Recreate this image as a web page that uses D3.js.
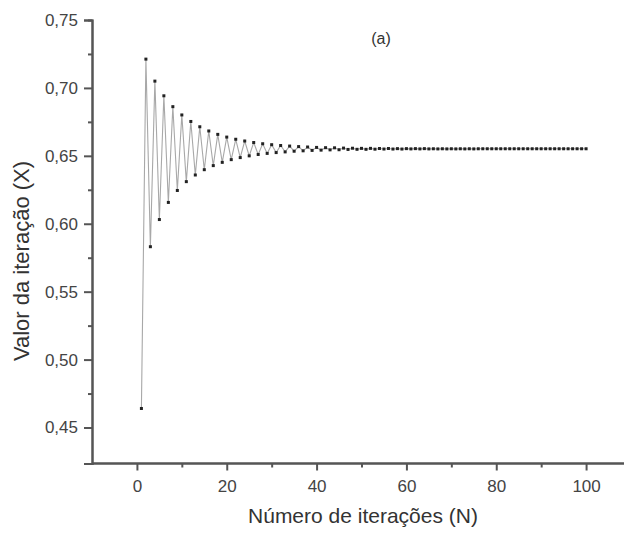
<!DOCTYPE html>
<html><head><meta charset="utf-8">
<script src="https://cdn.jsdelivr.net/npm/d3@7"></script>
<style>body{margin:0;background:#fff}svg{display:block}text{font-family:"Liberation Sans",Arial,sans-serif}</style>
</head><body><svg id="c" width="624" height="533"></svg>
<script>
const iterations = d3.range(1, 101);
const values = [
0.4640,0.7212,0.5831,0.7050,0.6031,0.6942,0.6157,0.6862,0.6245,0.6801,
0.6310,0.6753,0.6359,0.6714,0.6398,0.6683,0.6428,0.6658,0.6452,0.6638,
0.6472,0.6622,0.6487,0.6609,0.6500,0.6598,0.6510,0.6589,0.6518,0.6582,
0.6524,0.6576,0.6529,0.6572,0.6534,0.6568,0.6537,0.6565,0.6540,0.6562,
0.6542,0.6560,0.6544,0.6559,0.6545,0.6557,0.6547,0.6556,0.6548,0.6555,
0.6548,0.6555,0.6549,0.6554,0.6550,0.6554,0.6550,0.6553,0.6550,0.6553,
0.6551,0.6553,0.6551,0.6553,0.6551,0.6552,0.6551,0.6552,0.6551,0.6552,
0.6551,0.6552,0.6551,0.6552,0.6551,0.6552,0.6552,0.6552,0.6552,0.6552,
0.6552,0.6552,0.6552,0.6552,0.6552,0.6552,0.6552,0.6552,0.6552,0.6552,
0.6552,0.6552,0.6552,0.6552,0.6552,0.6552,0.6552,0.6552,0.6552,0.6552
];
const xMajor = [0, 20, 40, 60, 80, 100];
const xMinor = [10, 30, 50, 70, 90];
const yMajor = [0.45, 0.50, 0.55, 0.60, 0.65, 0.70, 0.75];
const yMinor = [0.475, 0.525, 0.575, 0.625, 0.675, 0.725];
const xTitle = "Número de iterações (N)";
const yTitle = "Valor da iteração (X)";
const panelLabel = "(a)";

const svg = d3.select("#c");
svg.append("rect").attr("width",624).attr("height",533).attr("fill","#fff");
const x = d3.scaleLinear().domain([-10, 110]).range([92, 631]);
const y = d3.scaleLinear().domain([0.4235, 0.75]).range([463.5, 20]);
const axisCol = "#555";
const fmt = v => d3.format(".2f")(v).replace(".", ",");

// line
svg.append("path")
  .datum(iterations.map((n,i)=>[n, values[i]]))
  .attr("fill","none").attr("stroke","#a8a8a8").attr("stroke-width",1.1)
  .attr("d", d3.line().x(d=>x(d[0])).y(d=>y(d[1])));
// points
svg.selectAll("rect.pt").data(iterations.map((n,i)=>[n, values[i]])).enter()
  .append("rect").attr("class","pt")
  .attr("x", d=>x(d[0])-1.5).attr("y", d=>y(d[1])-1.5)
  .attr("width",3).attr("height",3).attr("fill","#222");

// x axis
const gx = svg.append("g").attr("transform","translate(0,463.5)");
gx.call(d3.axisBottom(x).tickValues(xMajor).tickSize(7).tickPadding(9).tickFormat(d3.format("d")));
gx.append("g").call(d3.axisBottom(x).tickValues(xMinor).tickSize(4).tickFormat(""));
gx.selectAll(".domain").attr("stroke",axisCol).attr("stroke-width",2).attr("d","M92,0H624");
gx.selectAll(".tick line").attr("stroke",axisCol).attr("stroke-width",2);
gx.selectAll("text").attr("fill","#444").style("font-size","17px").style("font-family","Liberation Sans, Arial, sans-serif");

// y axis
const gy = svg.append("g").attr("transform","translate(92,0)");
gy.call(d3.axisLeft(y).tickValues(yMajor).tickSize(8).tickPadding(6).tickFormat(fmt));
gy.append("g").call(d3.axisLeft(y).tickValues(yMinor).tickSize(4).tickFormat(""));
gy.selectAll(".domain").attr("stroke",axisCol).attr("stroke-width",2);
gy.selectAll(".tick line").attr("stroke",axisCol).attr("stroke-width",2);
gy.selectAll("text").attr("fill","#444").style("font-size","17px").style("font-family","Liberation Sans, Arial, sans-serif");

svg.append("text").attr("x",363).attr("y",523).attr("text-anchor","middle")
  .attr("fill","#333").style("font-size","21px").text(xTitle);
svg.append("text").attr("transform","translate(29,261) rotate(-90)").attr("text-anchor","middle")
  .attr("fill","#333").style("font-size","22px").text(yTitle);
svg.append("text").attr("x",381).attr("y",44).attr("text-anchor","middle")
  .attr("fill","#333").style("font-size","16px").text(panelLabel);
</script></body></html>
